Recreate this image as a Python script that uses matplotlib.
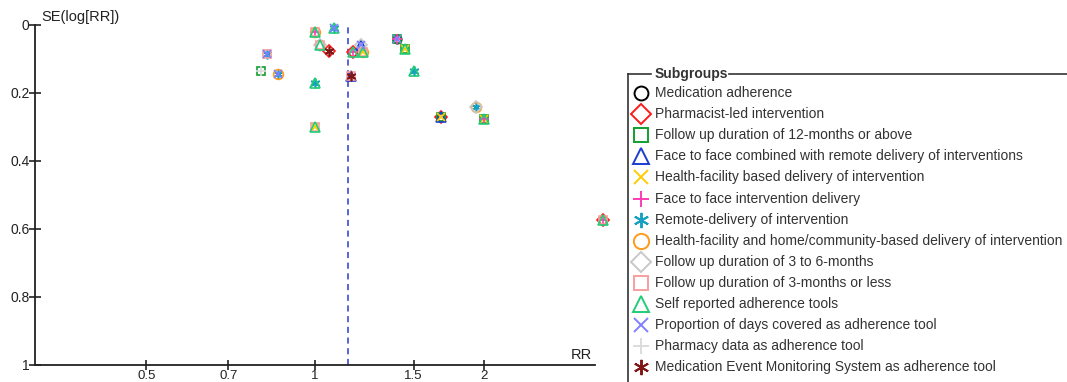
import numpy as np
import matplotlib
matplotlib.use("Agg")
import matplotlib.pyplot as plt

plt.rcParams['font.family'] = ['Liberation Sans', 'DejaVu Sans']

# studies (risk ratio and standard error of log RR)
rr = [1.00, 1.08, 1.02, 1.06, 1.17, 1.21, 1.22, 1.40, 1.45, 0.82,
      0.80, 0.86, 1.00, 1.16, 1.50, 1.00, 1.68, 1.94, 2.00, 3.27]
se = [0.02, 0.01, 0.06, 0.075, 0.08, 0.06, 0.08, 0.04, 0.07, 0.085,
      0.135, 0.145, 0.17, 0.15, 0.135, 0.30, 0.27, 0.24, 0.275, 0.575]
pooled_rr = 1.145

subgroups = [
    "Medication adherence",
    "Pharmacist-led intervention",
    "Follow up duration of 12-months or above",
    "Face to face combined with remote delivery of interventions",
    "Health-facility based delivery of intervention",
    "Face to face intervention delivery",
    "Remote-delivery of intervention",
    "Health-facility and home/community-based delivery of intervention",
    "Follow up duration of 3 to 6-months",
    "Follow up duration of 3-months or less",
    "Self reported adherence tools",
    "Proportion of days covered as adherence tool",
    "Pharmacy data as adherence tool",
    "Medication Event Monitoring System as adherence tool",
]
# which studies belong to each subgroup (indices into rr / se)
members = [
    [7, 16],
    [3, 4, 16, 19],
    [7, 8, 10, 16, 18],
    [5, 13, 16],
    [6, 8, 15, 16, 18],
    [0, 4, 7, 18, 19],
    [1, 9, 11, 12, 14, 17],
    [0, 6, 11, 17],
    [2, 5, 17],
    [0, 2, 6, 9, 13, 15, 19],
    [0, 1, 2, 4, 6, 8, 12, 14, 15, 18, 19],
    [1, 5, 7, 9, 11],
    [10],
    [3, 13],
]

ast = (6, 2, 0)
markers = ['o', 'D', 's', '^', 'x', '+', ast, 'o', 'D', 's', '^', 'x', '+', ast]
colors = ['#000000', '#ff1a1a', '#10a030', '#1a3fd0', '#ffcc00', '#ff3cb4', '#14a0c0',
          '#ff9a1a', '#c8c8c8', '#f7a0a0', '#22cc77', '#8080ff', '#dcdcdc', '#801515']
sizes = [6, 6, 6, 7, 6, 7, 7, 7, 6, 6, 7, 6, 7, 7]

fig = plt.figure(figsize=(10.67, 3.82), dpi=100)
ax = fig.add_axes([35 / 1067, 17 / 382, 560 / 1067, 340 / 382])

for k in range(len(subgroups)):
    xs = [rr[i] for i in members[k]]
    ys = [se[i] for i in members[k]]
    ax.plot(xs, ys, linestyle='none', marker=markers[k], markersize=sizes[k],
            markerfacecolor='none', markeredgecolor=colors[k], markeredgewidth=1.2,
            clip_on=False, zorder=3)

ax.axvline(pooled_rr, color='#2a3ad0', linestyle=(0, (4, 3)), linewidth=1.1, zorder=2)

ax.set_xscale('log')
ax.set_xlim(10 ** -0.5, 10 ** 0.5)
ax.set_ylim(1, 0)
ax.set_xticks([0.5, 0.7, 1, 1.5, 2])
ax.set_xticklabels(['0.5', '0.7', '1', '1.5', '2'])
ax.xaxis.set_minor_locator(matplotlib.ticker.NullLocator())
ax.set_yticks([0, 0.2, 0.4, 0.6, 0.8, 1])
ax.set_yticklabels(['0', '0.2', '0.4', '0.6', '0.8', '1'])
ax.tick_params(direction='inout', length=8, width=1.2, labelsize=10, colors='#222222', pad=0)
ax.tick_params(axis='x', length=7, pad=0, labelsize=9.5)
for s in ['top', 'right']:
    ax.spines[s].set_visible(False)
for s in ['left', 'bottom']:
    ax.spines[s].set_linewidth(1.3)
    ax.spines[s].set_color('#222222')

# overlay in pixel coordinates for the axis titles and the legend
ov = fig.add_axes([0, 0, 1, 1])
ov.set_xlim(0, 1067)
ov.set_ylim(382, 0)
ov.axis('off')
ov.text(41, 17, "SE(log[RR])", fontsize=10.5, color='#222222', va='center', ha='left')
ov.text(592, 355, "RR", fontsize=10.5, color='#222222', va='center', ha='right')

# legend frame with the title sitting on the top line
ov.plot([628, 628], [74, 382], color='#333333', linewidth=1.2, clip_on=False)
ov.plot([628, 651], [74, 74], color='#333333', linewidth=1.2)
ov.plot([729, 1067], [74, 74], color='#333333', linewidth=1.2)
ov.text(655, 74, "Subgroups", fontsize=10, fontweight='bold', color='#333333',
        va='center', ha='left')
row0, step = 93, 21.1
for k, name in enumerate(subgroups):
    y = row0 + step * k
    ov.plot([641], [y], linestyle='none', marker=markers[k], markersize=sizes[k] + 4,
            markerfacecolor='none', markeredgecolor=colors[k], markeredgewidth=1.4)
    ov.text(655, y, name, fontsize=10, color='#333333', va='center', ha='left')

fig.savefig("out.png", dpi=100)
